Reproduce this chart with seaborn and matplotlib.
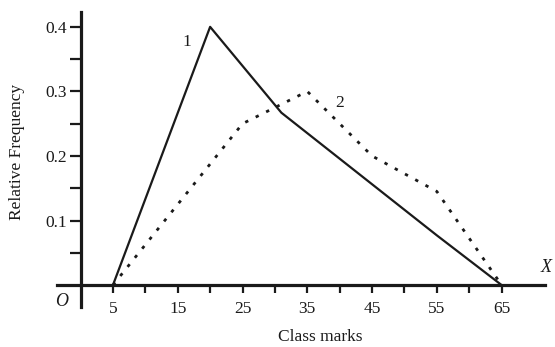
import matplotlib
matplotlib.use("Agg")
import matplotlib.pyplot as plt
import seaborn as sns
import pandas as pd
from matplotlib.ticker import FixedLocator

# Data
x1 = [5, 20, 31, 55, 65]
y1 = [0.0, 0.40, 0.267, 0.077, 0.0]
x2 = [5, 25, 35, 45, 55, 65]
y2 = [0.0, 0.25, 0.30, 0.20, 0.145, 0.0]
xticks = [5, 15, 25, 35, 45, 55, 65]
yticks = [0.1, 0.2, 0.3, 0.4]

sns.set_style("white")
plt.rcParams['font.family'] = ['Liberation Serif', 'DejaVu Serif']

fig = plt.figure(figsize=(5.55, 3.47), dpi=100)
ax = fig.add_axes([57/555, 1-307/347, (545-57)/555, (307-12)/347])

df1 = pd.DataFrame({"x": x1, "y": y1})
df2 = pd.DataFrame({"x": x2, "y": y2})
sns.lineplot(data=df1, x="x", y="y", ax=ax, color="#1a1a1a", linewidth=1.6, sort=False)
sns.lineplot(data=df2, x="x", y="y", ax=ax, color="#1a1a1a", linewidth=2.0, sort=False,
             linestyle=(0, (1.2, 3.0)))

ax.set_xlim(-3.64, 71.7)
ax.set_ylim(-0.034, 0.423)

for s in ["top", "right"]:
    ax.spines[s].set_visible(False)
ax.spines["left"].set_position(("data", 0))
ax.spines["bottom"].set_position(("data", 0))
for s in ["left", "bottom"]:
    ax.spines[s].set_linewidth(2.3)
    ax.spines[s].set_color("#1a1a1a")

ax.xaxis.set_major_locator(FixedLocator(xticks))
ax.xaxis.set_minor_locator(FixedLocator([10, 20, 30, 40, 50, 60]))
ax.yaxis.set_major_locator(FixedLocator(yticks))
ax.yaxis.set_minor_locator(FixedLocator([0.05, 0.15, 0.25, 0.35]))
ax.set_xticklabels([str(v) for v in xticks])
ax.set_yticklabels([f"{v:.1f}" for v in yticks])

ax.tick_params(axis="x", which="both", bottom=True, direction="out", length=6, width=1.6,
               color="#1a1a1a", labelsize=12.5, pad=5.5, labelcolor="#1a1a1a")
ax.tick_params(axis="y", which="both", left=True, direction="out", length=8, width=1.6,
               color="#1a1a1a", labelsize=12.5, pad=2, labelcolor="#1a1a1a")

ax.set_xlabel("")
ax.set_ylabel("")
fig.text(320/555, 1-337/347, "Class marks", ha="center", va="center", fontsize=12.5,
         color="#1a1a1a")
fig.text(17/555, 1-152/347, "Relative Frequency", ha="center", va="center",
         rotation=90, fontsize=12.5, color="#1a1a1a")
fig.text(62/555, 1-301/347, "O", ha="center", va="center", fontsize=13, style="italic",
         color="#1a1a1a")
fig.text(546/555, 1-268/347, "X", ha="center", va="center", fontsize=13, style="italic",
         color="#1a1a1a")

ax.text(16.4, 0.377, "1", ha="center", va="center", fontsize=12.5, color="#1a1a1a")
ax.text(40.0, 0.282, "2", ha="center", va="center", fontsize=12.5, color="#1a1a1a")

fig.savefig("out.png", dpi=100)
